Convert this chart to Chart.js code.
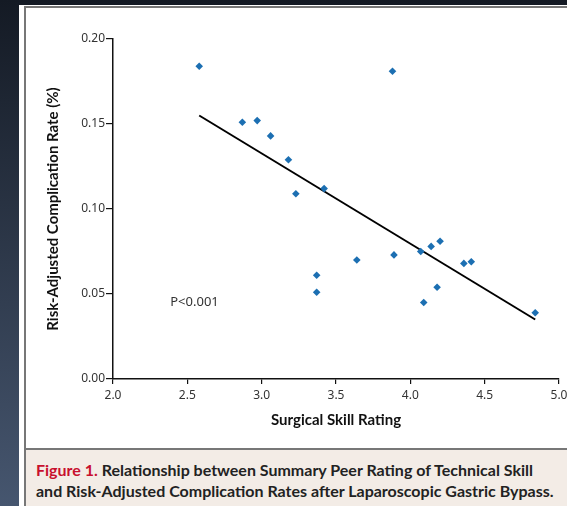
<!DOCTYPE html>
<html>
<head>
<meta charset="utf-8">
<script src="https://cdn.jsdelivr.net/npm/chart.js@4.4.1/dist/chart.umd.min.js"></script>
<style>
html, body { margin: 0; padding: 0; width: 567px; height: 506px; overflow: hidden; }
#bg { position: absolute; left: 0; top: 0; width: 567px; height: 506px; background: linear-gradient(#141a24, #46566f); }
#frame { position: absolute; left: 19px; top: 5px; width: 560px; height: 510px; background: #fff; }
#panel { position: absolute; left: 24px; top: 6px; width: 560px; height: 510px; border-left: 2px solid #777; border-top: 2px solid #777; background: #fff; }
#wrap { position: absolute; left: 26px; top: 8px; width: 553px; height: 439px; }
#caption { position: absolute; left: 26px; top: 448px; width: 560px; height: 60px; border-top: 2px solid #777; background: #f3ece6;
  font: bold 16px Lato, sans-serif; color: #222; padding-left: 10px; padding-top: 9px; line-height: 21px; box-sizing: border-box; }
#caption .fig { color: #c8102e; }
</style>
</head>
<body>
<div id="bg"></div>
<div id="frame"></div>
<div id="panel"></div>
<div id="wrap"><canvas id="myChart" width="553" height="439"></canvas></div>
<div id="caption"><span class="fig">Figure 1.</span> Relationship between Summary Peer Rating of Technical Skill<br>and Risk-Adjusted Complication Rates after Laparoscopic Gastric Bypass.</div>
<script>
// skill rating of each surgeon and the matching complication rate
var skill = [2.58, 2.87, 2.97, 3.06, 3.18, 3.23, 3.42, 3.37, 3.37, 3.64, 3.88, 3.89, 4.07, 4.14, 4.20, 4.18, 4.09, 4.36, 4.41, 4.84];
var rate  = [0.184, 0.151, 0.152, 0.143, 0.129, 0.109, 0.112, 0.061, 0.051, 0.070, 0.181, 0.073, 0.075, 0.078, 0.081, 0.054, 0.045, 0.068, 0.069, 0.039];
// fitted line end points
var fitX = [2.58, 4.84];
var fitY = [0.155, 0.035];
var xTicks = [2.0, 2.5, 3.0, 3.5, 4.0, 4.5, 5.0];
var yTicks = [0.00, 0.05, 0.10, 0.15, 0.20];
var pText = { x: 2.385, y: 0.045, label: "P<0.001" };

var points = skill.map(function (s, i) { return { x: s, y: rate[i] }; });
var fit = fitX.map(function (s, i) { return { x: s, y: fitY[i] }; });

var pLabel = {
  id: 'pLabel',
  afterDatasetsDraw: function (chart) {
    var c = chart.ctx;
    c.save();
    c.font = '13px "Noto Sans", sans-serif';
    c.fillStyle = '#333';
    c.textBaseline = 'middle';
    c.fillText(pText.label, chart.scales.x.getPixelForValue(pText.x), chart.scales.y.getPixelForValue(pText.y));
    c.restore();
  }
};

Chart.defaults.font.family = '"Noto Sans", sans-serif';

var ctx = document.getElementById('myChart').getContext('2d');
var myChart = new Chart(ctx, {
  type: 'scatter',
  data: {
    datasets: [{
      data: points,
      backgroundColor: '#1c6fb2',
      borderColor: '#1c6fb2',
      pointStyle: 'rectRot',
      pointRadius: 3.8,
      borderWidth: 0
    }, {
      type: 'line',
      data: fit,
      borderColor: '#000',
      borderWidth: 2,
      pointRadius: 0,
      fill: false
    }]
  },
  options: {
    responsive: false,
    animation: false,
    layout: { padding: { top: 31, right: 20, left: 0, bottom: 0 } },
    plugins: { legend: { display: false }, tooltip: { enabled: false } },
    scales: {
      x: {
        type: 'linear', min: 2, max: 5,
        afterBuildTicks: function (s) { s.ticks = xTicks.map(function (v) { return { value: v }; }); },
        afterFit: function (s) { s.height = 68; },
        border: { display: true, color: '#111', width: 1.5 },
        grid: { drawOnChartArea: false, drawTicks: true, tickLength: 5, color: '#111', lineWidth: 1.2 },
        ticks: { padding: 4, color: '#333', font: { size: 12 }, maxRotation: 0, callback: function (v) { return v.toFixed(1); } },
        title: { display: true, text: 'Surgical Skill Rating', color: '#111', font: { family: 'Lato', size: 15, weight: 'bold' }, padding: { bottom: 18, top: 0 } }
      },
      y: {
        type: 'linear', min: 0, max: 0.2,
        afterBuildTicks: function (s) { s.ticks = yTicks.map(function (v) { return { value: v }; }); },
        afterFit: function (s) { s.width = 87; },
        border: { display: true, color: '#111', width: 1.5 },
        grid: { drawOnChartArea: false, drawTicks: true, tickLength: 7, color: '#111', lineWidth: 1.2 },
        ticks: { padding: 1, color: '#333', font: { size: 12 }, callback: function (v) { return v.toFixed(2); } },
        title: { display: true, text: 'Risk-Adjusted Complication Rate (%)', color: '#111', font: { family: 'Lato', size: 15, weight: 'bold' }, padding: { top: 18, bottom: 0 } }
      }
    }
  },
  plugins: [pLabel]
});
</script>
</body>
</html>
